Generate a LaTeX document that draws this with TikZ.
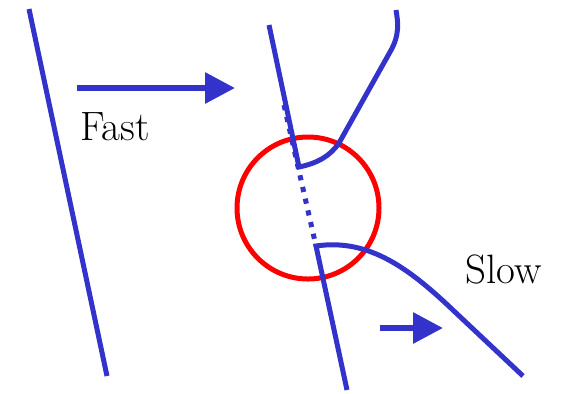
\documentclass[tikz,border=0pt]{standalone}
\usetikzlibrary{arrows.meta}
\definecolor{wblue}{HTML}{3333CC}
\definecolor{wred}{HTML}{FF0000}
\tikzset{
  front/.style={draw=wblue, line width=2.5pt},
  dotfront/.style={draw=wblue, line width=2.5pt, dash pattern=on 2.6pt off 3.4pt},
  motion/.style={draw=wblue, line width=3pt, -{Triangle[length=15pt,width=15pt]}},
  zone/.style={draw=wred, line width=2.5pt},
  lbl/.style={font=\fontsize{20.5pt}{24pt}\selectfont, inner sep=0pt, anchor=base west}
}
\begin{document}
\begin{tikzpicture}[x=0.5pt,y=-0.5pt]
\useasboundingbox (0,0) rectangle (561,393);
% coordinates
\coordinate (L1) at (29,9);
\coordinate (L2) at (107,376);
\coordinate (T1) at (269,25);
\coordinate (K1) at (299,167);
\coordinate (D1) at (284,105);
\coordinate (K2) at (316,246);
\coordinate (B1) at (347,390);
\coordinate (FA1) at (77,88);
\coordinate (FA2) at (235,88);
\coordinate (SA1) at (380,328);
\coordinate (SA2) at (443,328);
\coordinate (C) at (308,208);
% left front
\draw[front] (L1) -- (L2);
% fast arrow and label
\draw[motion] (FA1) -- (FA2);
\node[lbl] (fast) at (80,140) {Fast};
% red circle
\draw[zone] (C) circle (71);
% upper front
\draw[front, line join=miter] (T1) -- (K1) .. controls (318,163) and (330,156) .. (339,143)
  -- (390,52) .. controls (400,35) and (398,22) .. (396,10);
% dotted part
\draw[dotfront] (D1) -- (K2);
% lower front
\draw[front, line join=miter] (B1) -- (K2) .. controls (370,238) and (411,270) .. (455,312) -- (523,376);
% slow arrow and label
\draw[motion] (SA1) -- (SA2);
\node[lbl] (slow) at (465,283) {Slow};
\end{tikzpicture}
\end{document}
